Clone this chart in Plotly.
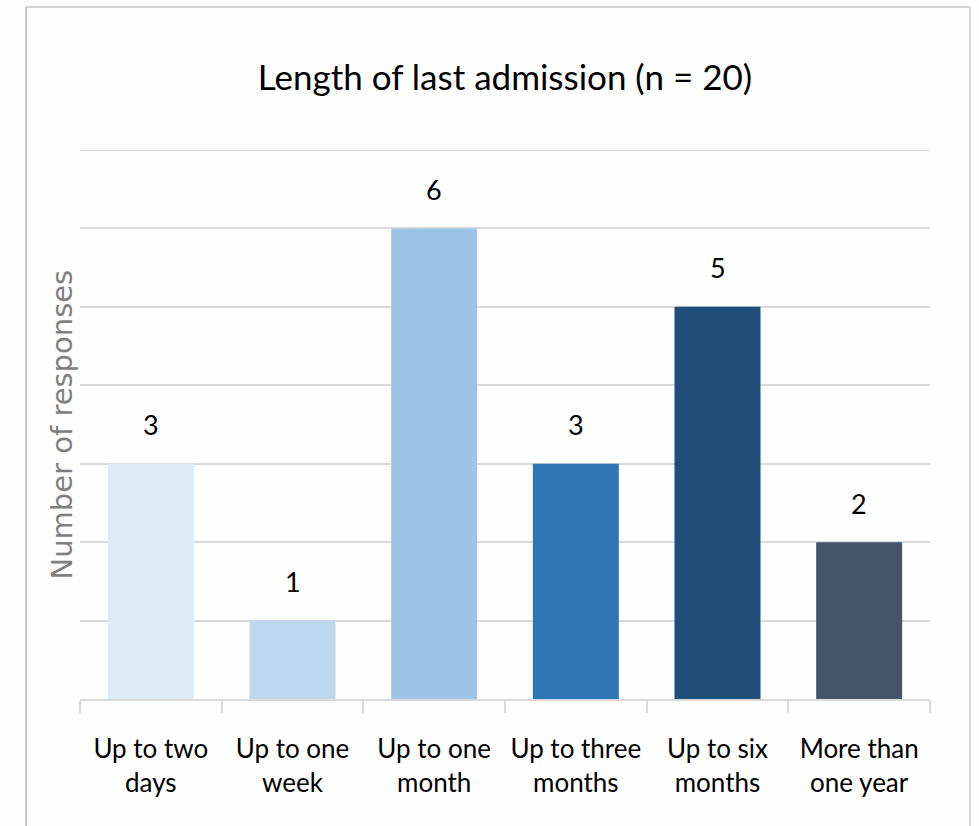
import plotly.graph_objects as go

# Survey results: length of the respondent's last admission
categories = ["Up to two<br>days", "Up to one<br>week", "Up to one<br>month",
              "Up to three<br>months", "Up to six<br>months", "More than<br>one year"]
responses = [3, 1, 6, 3, 5, 2]
bar_colors = ["#DDEBF7", "#BDD7EE", "#9DC3E6", "#2E75B6", "#1F4E79", "#44546A"]
y_max = 7

W, H = 979, 826
ML, MR, MT, MB = 80, 49, 150, 127
pw, ph = W - ML - MR, H - MT - MB

body = "Lato, Liberation Sans, sans-serif"
grid = "#D9D9D9"

fig = go.Figure(go.Bar(
    x=categories, y=responses,
    marker=dict(color=bar_colors, line=dict(width=0)),
    hoverinfo="x+y",
))

# value labels above each bar
for c, v in zip(categories, responses):
    fig.add_annotation(x=c, y=v, text=str(v), showarrow=False, yshift=39,
                       font=dict(family=body, size=27, color="#000000"))

# y-axis title
fig.add_annotation(xref="paper", yref="paper", x=(61 - ML) / pw, y=0.5,
                   text="Number of responses", textangle=-90, showarrow=False,
                   xanchor="center", yanchor="middle",
                   font=dict(family="DejaVu Sans, sans-serif", size=29, color="#7F7F7F"))

# top gridline sits on the edge of the plot area, so draw it explicitly
fig.add_shape(type="line", xref="paper", yref="y", x0=0, x1=1, y0=y_max, y1=y_max,
              line=dict(color=grid, width=2))

# chart border
def px_x(p):
    return (p - ML) / pw

def px_y(p):
    return (H - MB - p) / ph

fig.add_shape(type="line", xref="paper", yref="paper",
              x0=px_x(26), x1=px_x(26), y0=px_y(7), y1=px_y(830),
              line=dict(color="#C4C4C4", width=2))
fig.add_shape(type="line", xref="paper", yref="paper",
              x0=px_x(26), x1=px_x(970), y0=px_y(7), y1=px_y(7),
              line=dict(color="#D4D4D4", width=2))
fig.add_shape(type="line", xref="paper", yref="paper",
              x0=px_x(970), x1=px_x(970), y0=px_y(7), y1=px_y(830),
              line=dict(color="#D4D4D4", width=2))

fig.update_layout(
    width=W, height=H,
    margin=dict(l=ML, r=MR, t=MT, b=MB, autoexpand=False),
    paper_bgcolor="#FEFEFE", plot_bgcolor="#FEFEFE",
    bargap=0.393,
    showlegend=False,
    title=dict(text="Length of last admission (n = 20)", x=0.5, xref="paper",
               y=1 - 78 / H, yref="container", xanchor="center", yanchor="middle",
               font=dict(family=body, size=35, color="#000000")),
    xaxis=dict(showline=True, linecolor=grid, linewidth=2,
               ticks="outside", tickson="boundaries", ticklen=12, tickcolor=grid, tickwidth=2,
               ticklabelstandoff=26,
               tickfont=dict(family=body, size=26, color="#000000"),
               showgrid=False, zeroline=False),
    yaxis=dict(range=[0, y_max], tickvals=list(range(1, y_max + 1)), showgrid=True,
               gridcolor=grid, gridwidth=2,
               showticklabels=False, zeroline=False, ticks=""),
)

fig.write_html("out.html")
